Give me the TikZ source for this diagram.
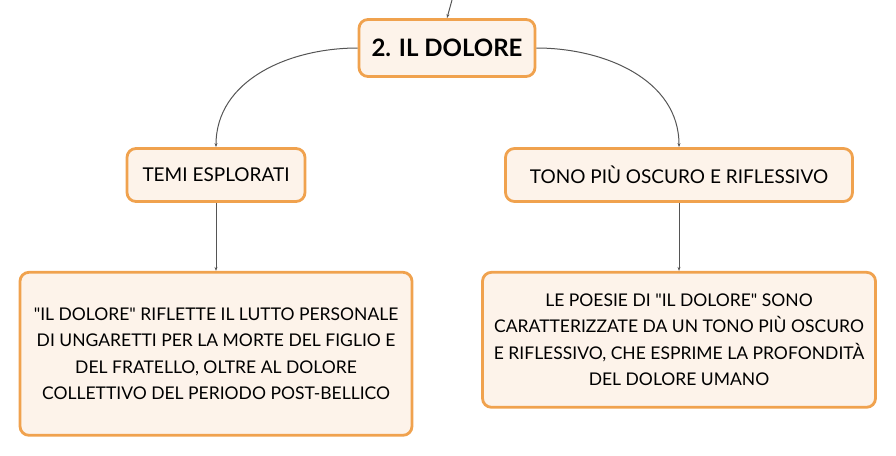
\documentclass[tikz,border=0pt]{standalone}
\usepackage{fontspec}
\setmainfont{Lato}[Ligatures=TeXOff]
\usetikzlibrary{positioning,arrows.meta}
\definecolor{boxfill}{HTML}{FDF3EA}
\definecolor{boxline}{HTML}{F0A24E}
\definecolor{linkgray}{HTML}{555555}

\begin{document}
\begin{tikzpicture}[x=1pt,y=-1pt,
	box/.style={draw=boxline, fill=boxfill, line width=2.8pt, rounded corners=9pt, align=center, inner sep=0pt},
	link/.style={draw=linkgray, line width=1pt, -{Stealth[length=4pt,width=3pt]}},
	]
	\useasboundingbox (0,0) rectangle (896,455);
	\node[box, minimum width=176pt, minimum height=57pt, font=\fontsize{24}{28}\selectfont\bfseries] (root) at (447,48) {2. IL DOLORE};
	\node[box, minimum width=178pt, minimum height=53pt, font=\fontsize{19}{23}\selectfont] (temi) at (216,175) {TEMI ESPLORATI};
	\node[box, minimum width=347pt, minimum height=53pt, font=\fontsize{19}{23}\selectfont] (tono) at (679,175) {TONO PIÙ OSCURO E RIFLESSIVO};
	\node[box, below=68pt of temi, minimum width=392pt, minimum height=163pt, font=\fontsize{17.5}{26.5}\selectfont] (lutto) {"IL DOLORE" RIFLETTE IL LUTTO PERSONALE\\DI UNGARETTI PER LA MORTE DEL FIGLIO E\\DEL FRATELLO, OLTRE AL DOLORE\\COLLETTIVO DEL PERIODO POST-BELLICO};
	\node[box, below=68pt of tono, minimum width=393pt, minimum height=135pt, font=\fontsize{17.5}{26.5}\selectfont] (poesie) {LE POESIE DI "IL DOLORE" SONO\\CARATTERIZZATE DA UN TONO PIÙ OSCURO\\E RIFLESSIVO, CHE ESPRIME LA PROFONDITÀ\\DEL DOLORE UMANO};
	\coordinate (up) at (452,0);

	\draw[link] (up) -- (root.north);
	\draw[link] (root.west) to[out=180, in=90] (temi.north);
	\draw[link] (root.east) to[out=0, in=90] (tono.north);
	\draw[link] (temi.south) -- (lutto.north);
	\draw[link] (tono.south) -- (poesie.north);
\end{tikzpicture}
\end{document}
